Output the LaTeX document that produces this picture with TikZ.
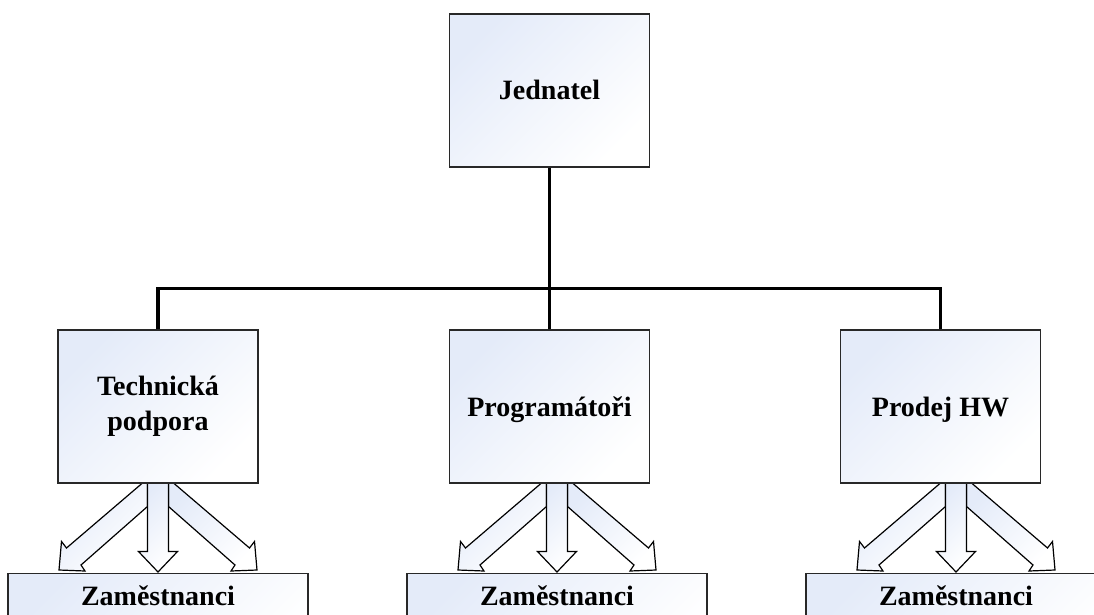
\documentclass[tikz,border=0pt]{standalone}
\usepackage{fontspec}
\setmainfont{Liberation Serif}
\definecolor{unitblue}{RGB}{228,235,249}
\definecolor{unitedge}{RGB}{40,40,40}
\tikzset{
  unit/.style={draw=unitedge, line width=1.4pt, top color=unitblue, bottom color=white,
    shading angle=45, minimum width=200pt, minimum height=153pt, align=center,
    inner sep=0pt, font=\bfseries\fontsize{28}{35}\selectfont},
  oneline/.style={text height=19pt, text depth=0pt},
  staff/.style={unit, minimum width=300pt, minimum height=0pt, anchor=north,
    text height=25pt, text depth=60pt, inner ysep=7pt},
  conn/.style={line width=3.5pt, black},
  fatarrow/.style={draw=black, line width=1.2pt, top color=unitblue, bottom color=white,
    shading angle=45},
}
% three hollow arrows above a staff box
\newcommand\staffarrows[1]{%
  \begin{scope}[shift={(#1.north)}]
    \draw[fatarrow] (-15.5,-90) -- (-91.5,-25) -- (-96.5,-31.5) -- (-99,-3) -- (-73,-2)
      -- (-77,-8) -- (-10.5,-66.5) -- (-10.5,-90) -- cycle;
    \draw[fatarrow] (15.5,-90) -- (91.5,-25) -- (96.5,-31.5) -- (99,-3) -- (73,-2)
      -- (77,-8) -- (10.5,-66.5) -- (10.5,-90) -- cycle;
    \draw[fatarrow] (-10.5,-90) -- (-10.5,-21.5) -- (-19.5,-21.5) -- (0,-1)
      -- (19.5,-21.5) -- (10.5,-21.5) -- (10.5,-90) -- cycle;
  \end{scope}}
\begin{document}
\begin{tikzpicture}[x=1pt, y=-1pt]
  \clip (0,0) rectangle (1094,615);

  % staff boxes, cut by the lower edge
  \node[staff] (zamA) at (158,573) {Zaměstnanci};
  \node[staff] (zamB) at (557,573) {Zaměstnanci};
  \node[staff] (zamC) at (956,573) {Zaměstnanci};

  % hollow arrows
  \staffarrows{zamA}
  \staffarrows{zamB}
  \staffarrows{zamC}

  % units
  \node[unit, oneline] (jednatel) at (549.5,90.5) {Jednatel};
  \node[unit, minimum height=153pt] (technicka) at (158,406.5) {\raisebox{-3pt}{\parbox{190pt}{\centering Technická\\podpora}}};
  \node[unit, oneline] (programatori) at (549.5,406.5) {Programátoři};
  \node[unit, oneline] (prodej) at (940.5,406.5) {Prodej HW};

  % connectors
  \coordinate (bus) at (549.5,288.5);
  \draw[conn] (jednatel.south) -- (programatori.north);
  \draw[conn] (technicka.north) |- (bus) -| (prodej.north);
\end{tikzpicture}
\end{document}
